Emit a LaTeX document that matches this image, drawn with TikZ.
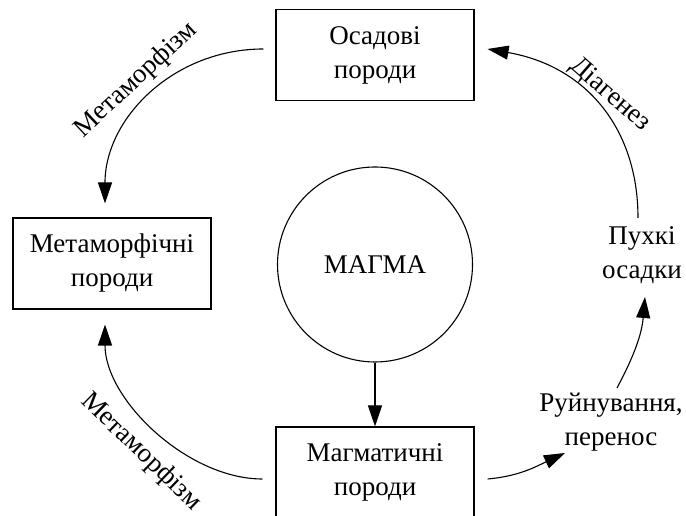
\documentclass[tikz,border=0pt]{standalone}
\usepackage{fontspec}
\setmainfont{Liberation Serif}
\usetikzlibrary{arrows.meta}
\begin{document}
\begin{tikzpicture}[x=1pt,y=1pt,
  every node/.style={font=\fontsize{27}{34}\selectfont, align=center, inner sep=0pt},
  box/.style={draw, line width=1.1pt, minimum width=198pt, minimum height=91pt},
  conn/.style={line width=1.1pt, -{Triangle[length=21pt,width=14pt]}}]
\useasboundingbox (0,0) rectangle (686,516);
% nodes
\node[box] (os) at (375,461) {Осадові\\породи};
\node[box] (met) at (112,252.5) {Метаморфічні\\породи};
\node[draw, circle, line width=1.1pt, minimum size=195pt] (magma) at (375,251.5) {МАГМА};
\node[box] (mag) at (375,43.5) {Магматичні\\породи};
\node (px) at (642,261) {Пухкі\\осадки};
\node (ru) at (611,94) {Руйнування,\\перенос};
% labels
\node[rotate=43] (l1) at (136,436) {Метаморфізм};
\node[rotate=-44] (l2) at (141,64) {Метаморфізм};
\node[rotate=-41] (l3) at (610,421) {Діагенез};
% connectors
\draw[conn] (magma.south) -- (mag.north);
\draw[conn] ([shift={(-12,6)}]os.west) .. controls +(-90,0) and +(0,85) .. ([shift={(-7,14)}]met.north);
\draw[conn] ([shift={(-13,-6.5)}]mag.west) .. controls +(-75,0) and +(0,-75) .. ([shift={(-7,-15)}]met.south);
\draw[conn] ([shift={(13,-6.5)}]mag.east) to[out=5,in=205] ([shift={(-46,-31)}]ru.center);
\draw[conn] ([shift={(6,34)}]ru.center) to[out=62,in=265] ([shift={(3,-42)}]px.center);
\draw[conn] ([shift={(-4,37)}]px.center) .. controls +(0,90) and +(98,-17) .. ([shift={(13,6)}]os.east);
\end{tikzpicture}
\end{document}
